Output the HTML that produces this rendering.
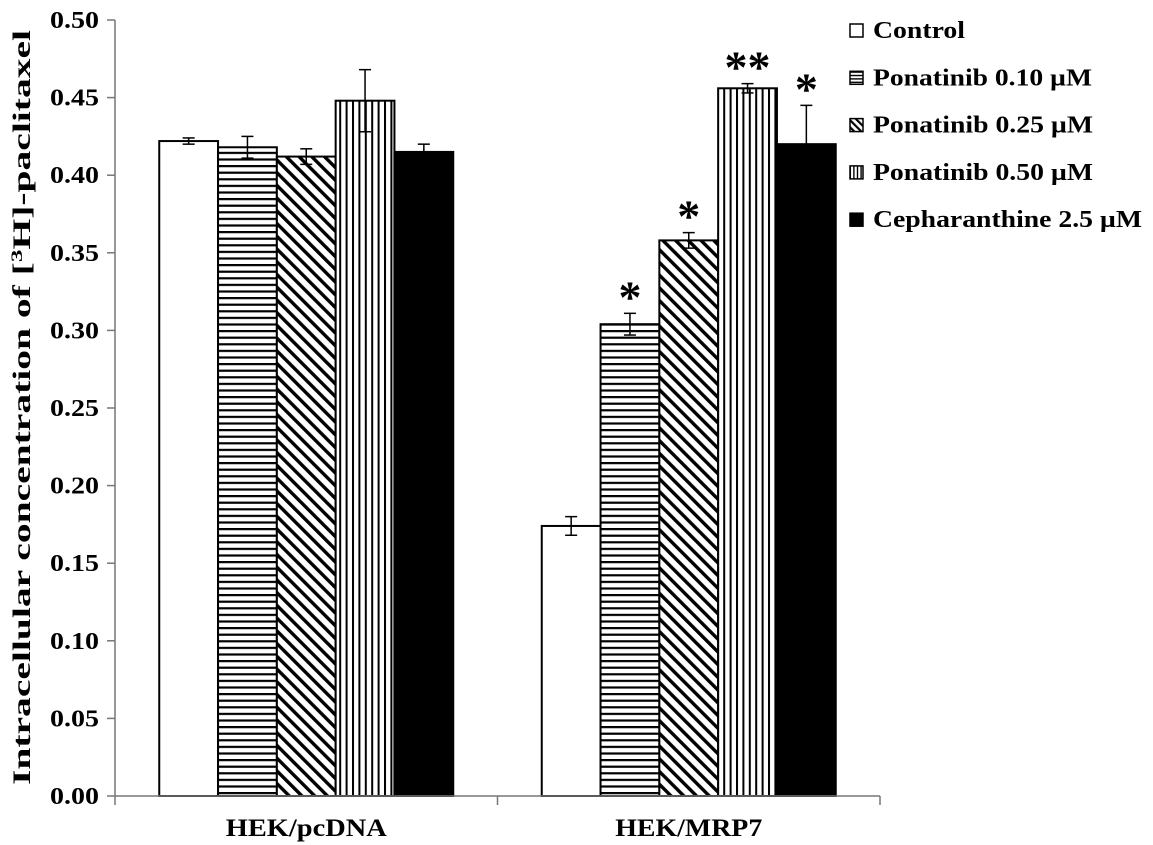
<!DOCTYPE html>
<html><head><meta charset="utf-8"><style>
html,body{margin:0;padding:0;background:#fff;}
svg{display:block;font-family:"Liberation Serif",serif;font-weight:bold;}
</style></head><body>
<svg id="chart" width="1153" height="845" viewBox="0 0 1153 845" xmlns="http://www.w3.org/2000/svg">
<defs>
<pattern id="pH" patternUnits="userSpaceOnUse" width="8" height="6.6"><rect width="8" height="6.6" fill="#fff"/><rect y="0" width="8" height="2.2" fill="#000"/></pattern>
<pattern id="pD" patternUnits="userSpaceOnUse" width="9" height="9" patternTransform="rotate(-45)"><rect width="9" height="9" fill="#fff"/><rect x="0" width="3.4" height="9" fill="#000"/></pattern>
<pattern id="pV" patternUnits="userSpaceOnUse" width="6.4" height="8"><rect width="6.4" height="8" fill="#fff"/><rect x="0" width="2" height="8" fill="#000"/></pattern>
<pattern id="pHs" patternUnits="userSpaceOnUse" width="4" height="3.4"><rect width="4" height="3.4" fill="#fff"/><rect width="4" height="1.4" fill="#000"/></pattern>
<pattern id="pDs" patternUnits="userSpaceOnUse" width="5" height="5" patternTransform="rotate(-45)"><rect width="5" height="5" fill="#fff"/><rect width="2.2" height="5" fill="#000"/></pattern>
<pattern id="pVs" patternUnits="userSpaceOnUse" width="3.6" height="4"><rect width="3.6" height="4" fill="#fff"/><rect width="1.4" height="4" fill="#000"/></pattern>
</defs>
<g id="plot"></g>
</svg>
<script>
const categories = ["HEK/pcDNA", "HEK/MRP7"];
const seriesNames = ["Control", "Ponatinib 0.10 µM", "Ponatinib 0.25 µM", "Ponatinib 0.50 µM", "Cepharanthine 2.5 µM"];
const pcdnaValues = [0.422, 0.418, 0.412, 0.448, 0.415];
const pcdnaErrors = [0.002, 0.007, 0.005, 0.020, 0.005];
const mrp7Values = [0.174, 0.304, 0.358, 0.456, 0.420];
const mrp7Errors = [0.006, 0.007, 0.005, 0.003, 0.025];
const mrp7Stars = ["", "*", "*", "**", "*"];
const yTicks = [0.00, 0.05, 0.10, 0.15, 0.20, 0.25, 0.30, 0.35, 0.40, 0.45, 0.50];

const NS = "http://www.w3.org/2000/svg";
const g = document.getElementById("plot");
const fills = ["#fff", "url(#pH)", "url(#pD)", "url(#pV)", "#000"];
const swatchFills = ["#fff", "url(#pHs)", "url(#pDs)", "url(#pVs)", "#000"];
const legendWidths = [92, 219, 220, 220, 269];
const catLabelWidths = [161, 147];
const x0 = 115, x1 = 880, y0 = 796, yTop = 20, yMax = 0.5;
function yScale(v){ return y0 - (v / yMax) * (y0 - yTop); }
const catW = (x1 - x0) / categories.length;
const barW = 58.8;
function xBar(ci, si){ return x0 + catW * ci + catW / 2 - barW * 2.5 + si * barW; }
function mk(tag, attrs, parent){ const e = document.createElementNS(NS, tag); for (const k in attrs) e.setAttribute(k, attrs[k]); (parent || g).appendChild(e); return e; }

let ax = mk("line", {x1: x0, y1: yTop, x2: x0, y2: y0, stroke: "#777", "stroke-width": 1.5});


yTicks.forEach(t => {
  const y = yScale(t);
  const tk = mk("line", {x1: x0 - 8, y1: y, x2: x0, y2: y, stroke: "#777", "stroke-width": 1.5});
  
  
  const tx = mk("text", {x: 50, y: y + 8, "font-size": 24, textLength: 49, lengthAdjust: "spacingAndGlyphs"});
  tx.textContent = t.toFixed(2);
  
  
});
const yl = mk("text", {x: -377, y: 0, "font-size": 25, transform: "translate(30,408) rotate(-90)", textLength: 755, lengthAdjust: "spacingAndGlyphs"});
yl.innerHTML = 'Intracellular concentration of [<tspan baseline-shift="super" font-size="16">3</tspan>H]-paclitaxel';



const allVals = [pcdnaValues, mrp7Values], allErr = [pcdnaErrors, mrp7Errors];
categories.forEach((c, ci) => {
  allVals[ci].forEach((v, si) => {
    const x = xBar(ci, si), y = yScale(v);
    const r = mk("rect", {x: x, y: y, width: barW, height: y0 - y, fill: fills[si], stroke: "#000", "stroke-width": 2});
    
    
    const e = allErr[ci][si], cx = x + barW / 2;
    const eg = mk("g", {stroke: "#000", "stroke-width": 1.5});
    
    
    mk("line", {x1: cx, y1: yScale(v + e), x2: cx, y2: yScale(v - e)}, eg);
    mk("line", {x1: cx - 6, y1: yScale(v + e), x2: cx + 6, y2: yScale(v + e)}, eg);
    mk("line", {x1: cx - 6, y1: yScale(v - e), x2: cx + 6, y2: yScale(v - e)}, eg);
    if (ci === 1 && mrp7Stars[si]) {
      const s = mk("text", {x: cx, y: yScale(v + e) - 1, "text-anchor": "middle", "font-size": 46});
      s.textContent = mrp7Stars[si];
      
      
    }
  });
  const cx = x0 + catW * ci + catW / 2;
  const cl = mk("text", {x: cx - catLabelWidths[ci] / 2, y: 836, "font-size": 25, textLength: catLabelWidths[ci], lengthAdjust: "spacingAndGlyphs"});
  cl.textContent = c;
  
  
});
let xa = mk("line", {x1: x0, y1: y0, x2: x1, y2: y0, stroke: "#777", "stroke-width": 1.5});


for (let i = 0; i <= categories.length; i++) {
  const xt = mk("line", {x1: x0 + catW * i, y1: y0, x2: x0 + catW * i, y2: y0 + 9, stroke: "#777", "stroke-width": 1.5});
  
  
}
seriesNames.forEach((n, i) => {
  const ly = 30 + i * 47.3;
  const lg = mk("g", {});
  
  
  mk("rect", {x: 850, y: ly - 6, width: 13, height: 13, fill: swatchFills[i], stroke: "#000", "stroke-width": 1.5}, lg);
  const t = mk("text", {x: 873, y: ly + 8, "font-size": 24, textLength: legendWidths[i], lengthAdjust: "spacingAndGlyphs"}, lg);
  t.textContent = n;
});
</script>
</body></html>
